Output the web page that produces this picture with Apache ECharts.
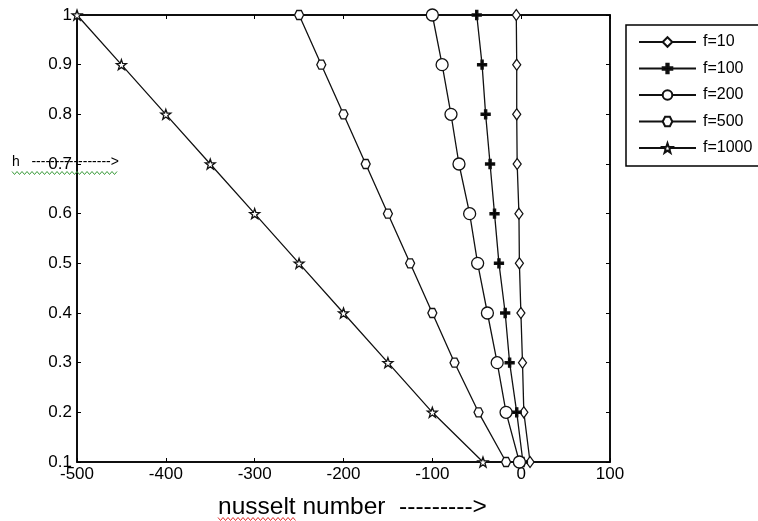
<!DOCTYPE html>
<html><head><meta charset="utf-8">
<script src="https://cdn.jsdelivr.net/npm/echarts@6/dist/echarts.min.js"></script>
<style>html,body{margin:0;padding:0;background:#fff}#c{width:758px;height:521px}</style>
</head><body><div id="c"></div>
<script>
var hValues = [0.1, 0.2, 0.3, 0.4, 0.5, 0.6, 0.7, 0.8, 0.9, 1.0];
var seriesNames = ['f=10', 'f=100', 'f=200', 'f=500', 'f=1000'];
var nu_f10   = [10, 3, 1.5, -0.3, -2, -2.5, -4.5, -5, -5, -5.5];
var nu_f100  = [2, -5, -13, -18, -25, -30, -35, -40, -44, -50];
var nu_f200  = [-2, -17, -27, -38, -49, -58, -70, -79, -89, -100];
var nu_f500  = [-17, -48, -75, -100, -125, -150, -175, -200, -225, -250];
var nu_f1000 = [-43, -100, -150, -200, -250, -300, -350, -400, -450, -500];
var xTicks = [-500, -400, -300, -200, -100, 0, 100];
var yTicks = [0.1, 0.2, 0.3, 0.4, 0.5, 0.6, 0.7, 0.8, 0.9, 1];

var allValues = [nu_f10, nu_f100, nu_f200, nu_f500, nu_f1000];
var symbols = [
  'path://M0,-6 L4.5,0 L0,6 L-4.5,0 Z',
  'path://M-1.2,-5 L1.2,-5 L1.2,-1.2 L5,-1.2 L5,1.2 L1.2,1.2 L1.2,5 L-1.2,5 L-1.2,1.2 L-5,1.2 L-5,-1.2 L-1.2,-1.2 Z',
  'circle',
  'path://M5,0 L2.5,4.33 L-2.5,4.33 L-5,0 L-2.5,-4.33 L2.5,-4.33 Z',
  'path://M0,-10 L2.35,-3.24 L9.51,-3.09 L3.8,1.24 L5.88,8.09 L0,4 L-5.88,8.09 L-3.8,1.24 L-9.51,-3.09 L-2.35,-3.24 Z'
];
var sizes = [[8, 11], 9, 12, 9, 10];
var fills = ['#fff', '#000', '#fff', '#fff', '#fff'];

var series = seriesNames.map(function (name, i) {
  return {
    name: name, type: 'line',
    data: allValues[i].map(function (v, k) { return [v, hValues[k]]; }),
    symbol: symbols[i], symbolSize: sizes[i], symbolKeepAspect: false,
    showAllSymbol: true,
    lineStyle: { color: '#111', width: 1.3 },
    itemStyle: { color: fills[i], borderColor: '#111', borderWidth: 1.3 },
    emphasis: { disabled: true },
    z: 2 + i
  };
});

function wavy(x0, x1, y) {
  var pts = [], up = true;
  for (var x = x0; x <= x1; x += 2.5) { pts.push([x, up ? y - 1.5 : y + 1.5]); up = !up; }
  return pts;
}

var FONT = 'Liberation Sans, Arial, sans-serif';
var tickFont = { color: '#000', fontSize: 17, fontFamily: FONT };
function axisCommon(extra) {
  return Object.assign({
    axisLine: { show: true, onZero: false, lineStyle: { color: '#000', width: 1.5 } },
    axisTick: { show: true, inside: true, length: 4, lineStyle: { color: '#000' } },
    splitLine: { show: false }
  }, extra);
}
var chart = echarts.init(document.getElementById('c'), null, { renderer: 'canvas' });
chart.setOption({
  animation: false,
  backgroundColor: '#fff',
  grid: { left: 77, top: 15, right: 148, bottom: 59, show: true, borderColor: '#000', borderWidth: 1.5, backgroundColor: 'transparent' },
  xAxis: [
    axisCommon({ type: 'value', min: xTicks[0], max: xTicks[xTicks.length - 1], interval: 100,
      axisLabel: Object.assign({ margin: 4 }, tickFont) }),
    axisCommon({ type: 'value', position: 'top', min: xTicks[0], max: xTicks[xTicks.length - 1], interval: 100,
      axisLabel: { show: false } })
  ],
  yAxis: [
    axisCommon({ type: 'value', min: yTicks[0], max: yTicks[yTicks.length - 1], interval: 0.1,
      axisLabel: Object.assign({ margin: 5, formatter: function (v) { return String(Math.round(v * 10) / 10); } }, tickFont) }),
    axisCommon({ type: 'value', position: 'right', min: yTicks[0], max: yTicks[yTicks.length - 1], interval: 0.1,
      axisLabel: { show: false } })
  ],
  legend: {
    orient: 'vertical', left: 626, top: 25,
    padding: [9, 60, 10, 12], itemGap: 10.5, itemWidth: 57, itemHeight: 12,
    borderColor: '#000', borderWidth: 1.5, backgroundColor: '#fff',
    textStyle: { color: '#000', fontSize: 16, fontFamily: FONT, padding: [0, 0, 0, 2] },
    data: seriesNames
  },
  graphic: [
    { type: 'text', left: 12, top: 155, z: 10, style: { text: 'h   ----------------->', fill: '#000', fontSize: 14, fontFamily: FONT } },
    { type: 'polyline', z: 10, shape: { points: wavy(12, 118, 173) }, style: { stroke: '#3c9c3c', lineWidth: 1, fill: null } },
    { type: 'text', left: 218, top: 495, z: 10, style: { text: 'nusselt number  --------->', fill: '#000', fontSize: 24.5, fontFamily: FONT } },
    { type: 'polyline', z: 10, shape: { points: wavy(218, 297, 519) }, style: { stroke: '#e03030', lineWidth: 1, fill: null } }
  ],
  series: series
});
</script></body></html>
